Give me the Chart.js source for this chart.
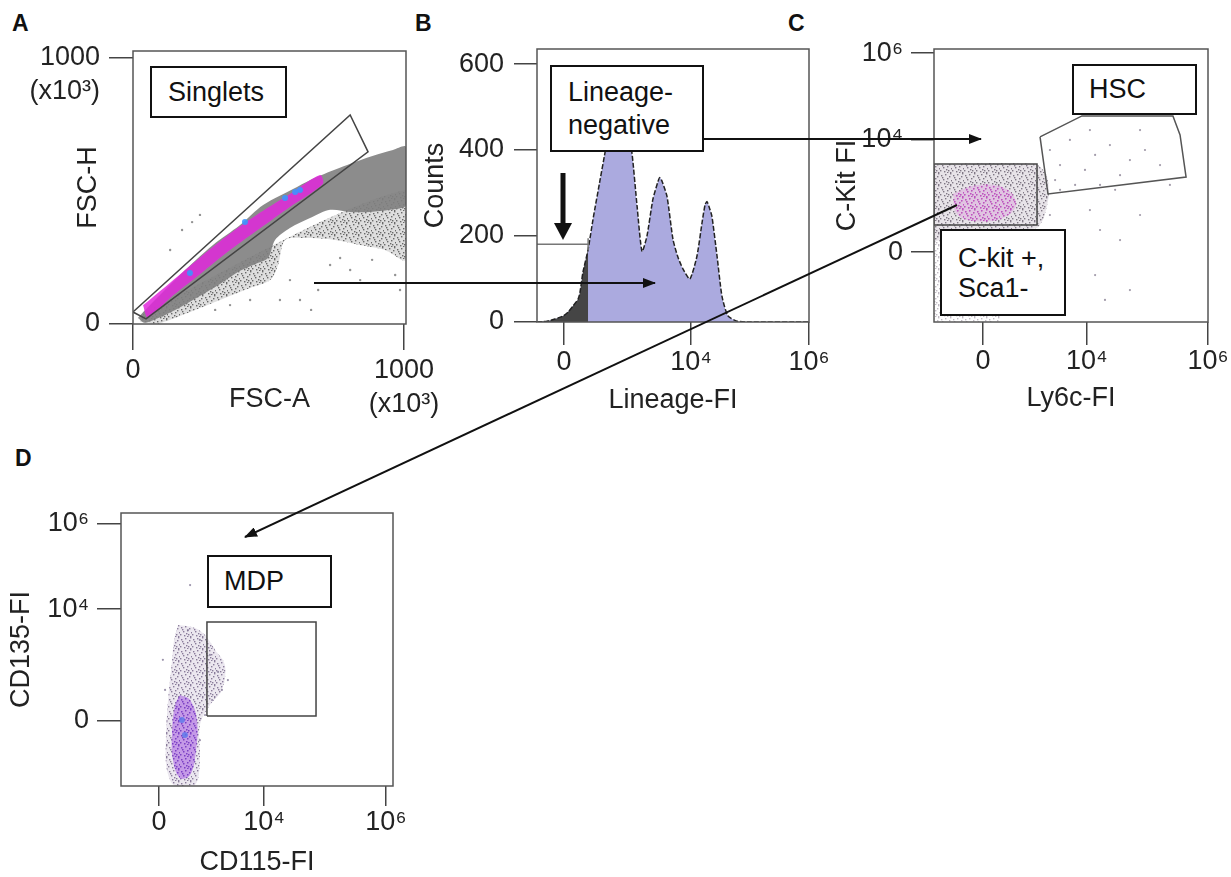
<!DOCTYPE html>
<html>
<head>
<meta charset="utf-8">
<title>Gating strategy – MDP</title>
<script src="https://cdn.jsdelivr.net/npm/chart.js@4.4.1/dist/chart.umd.min.js"></script>
<style>
  html, body { margin: 0; padding: 0; background: #fff; }
  body { width: 1231px; height: 877px; position: relative; overflow: hidden;
         font-family: "Liberation Sans", Arial, sans-serif; color: #111; }
  .panel { position: absolute; }
  .letter { position: absolute; font-weight: bold; font-size: 23px; line-height: 23px; }
  .gate-label { position: absolute; box-sizing: border-box; border: 2px solid #111; background: #fff;
                font-size: 27px; display: flex; flex-direction: column; justify-content: center;
                white-space: nowrap; }
  svg.overlay { position: absolute; left: 0; top: 0; }
</style>
</head>
<body>

<div class="letter" style="left:12px;top:12px">A</div>
<div class="letter" style="left:415px;top:12px">B</div>
<div class="letter" style="left:788px;top:12px">C</div>
<div class="letter" style="left:15px;top:447px">D</div>

<div class="panel" id="panelA"><canvas></canvas></div>
<div class="panel" id="panelB"><canvas></canvas></div>
<div class="panel" id="panelC"><canvas></canvas></div>
<div class="panel" id="panelD"><canvas></canvas></div>

<div class="gate-label" style="left:150px;top:66px;width:137px;height:52px;padding-left:16px">Singlets</div>
<div class="gate-label" style="left:550px;top:65px;width:154px;height:87px;padding-left:16px;line-height:33px"><span>Lineage-</span><span>negative</span></div>
<div class="gate-label" style="left:1072px;top:64px;width:125px;height:51px;padding-left:15px">HSC</div>
<div class="gate-label" style="left:940px;top:229px;width:126px;height:87px;padding-left:16px;line-height:30px"><span>C-kit +,</span><span>Sca1-</span></div>
<div class="gate-label" style="left:207px;top:555px;width:125px;height:53px;padding-left:15px">MDP</div>

<svg class="overlay" width="1231" height="877">
  <defs>
    <marker id="head" markerWidth="13" markerHeight="10" refX="12" refY="5" orient="auto" markerUnits="userSpaceOnUse">
      <path d="M0,0 L13,5 L0,10 z" fill="#111"/>
    </marker>
  </defs>
  <line x1="314" y1="283" x2="655" y2="283" stroke="#111" stroke-width="2" marker-end="url(#head)"/>
  <line x1="703" y1="139" x2="981" y2="139" stroke="#111" stroke-width="2" marker-end="url(#head)"/>
  <line x1="957" y1="205" x2="245" y2="537" stroke="#111" stroke-width="2" marker-end="url(#head)"/>
  <line x1="563" y1="173" x2="563" y2="226" stroke="#111" stroke-width="5"/>
  <path d="M554,223 L572,223 L563,240 z" fill="#111"/>
</svg>

<script>
(function () {
  "use strict";

  // ── Shared tick labels ──
  const bixLabels = ["0", "10\u2074", "10\u2076"];

  // ── Panel A: FSC-A vs FSC-H (x10^3) ──
  const fscTicks      = [0, 1000];
  const fscXLabels    = ["0", ["1000", "(x10³)"]];
  const fscYLabels    = ["0", ["", "1000", "(x10³)"]];
  const singletsGate  = [[0, 45], [48, 19], [867, 647], [801, 786]];
  const fscFringe     = [[26, 8], [44, 45], [1007, 504], [1007, 241], [930, 278], [838, 297], [745, 316],
                         [635, 323], [561, 316], [535, 222], [506, 165], [432, 135], [339, 98], [247, 60],
                         [155, 23], [81, 0]];
  const fscDense      = [[18, 23], [63, 71], [173, 184], [295, 297], [395, 372], [480, 447], [605, 515],
                         [679, 553], [790, 598], [886, 632], [959, 654], [1007, 665], [1007, 447], [948, 429],
                         [875, 421], [801, 421], [727, 429], [653, 398], [579, 361], [524, 316], [498, 248],
                         [450, 225], [395, 200], [321, 150], [247, 105], [173, 62], [100, 25], [44, 5]];
  const fscCore       = [[37, 70], [137, 155], [247, 250], [358, 340], [469, 419], [579, 489], [690, 560],
                         [700, 526], [579, 440], [469, 360], [358, 278], [247, 187], [137, 98], [55, 24]];
  const fscBlueSpots  = [[598, 496], [616, 504], [561, 474], [413, 383], [210, 192]];
  const fscSparse     = [[727, 222], [801, 203], [683, 128], [616, 90], [542, 90], [579, 165], [838, 165],
                         [967, 184], [882, 241], [764, 248], [432, 90], [358, 71], [303, 53], [985, 128],
                         [657, 53], [181, 353], [247, 410], [218, 383], [137, 278]];

  // ── Panel B: Lineage-FI histogram ──
  const linChannels   = [0, 22, 37, 66, 96, 114, 132, 151, 158, 169, 188, 206, 232, 250, 268, 298, 327, 349,
                         368, 386, 404, 426, 445, 452, 460, 478, 500, 518, 537, 562, 588, 607, 618, 625, 632,
                         643, 662, 680, 702, 735, 783, 1000];
  const linCounts     = [0, 1, 2, 7, 14, 23, 37, 53, 69, 116, 169, 239, 331, 394, 459, 493, 475, 394,
                         269, 164, 199, 285, 327, 336, 327, 292, 192, 151, 123, 100, 153, 232, 273, 280, 269,
                         246, 153, 60, 14, 2, 0, 0];
  const linXTicks     = [99, 566, 1000];
  const countTicks    = [0, 200, 400, 600];
  const countLabels   = ["0", "200", "400", "600"];
  const linGateLine   = [[0, 181], [188, 181]];
  const linGateEnd    = [[188, 167], [188, 195]];
  const linGateChannel = 188;

  // ── Panel C: Ly6c-FI vs C-Kit FI ──
  const ly6cTicks     = [179, 558, 1000];
  const ckitTicks     = [256, 667, 985];
  const ckitGate      = [[0, 355], [376, 355], [376, 579], [0, 579]];
  const hscGate       = [[387, 678], [540, 755], [872, 755], [898, 685], [920, 531], [416, 469]];
  const ckitCloud     = [[0, 576], [200, 582], [376, 576], [410, 540], [420, 470], [400, 380], [376, 345],
                         [300, 335], [150, 325], [60, 310], [0, 300]];
  const ckitCore      = [[70, 470], [150, 500], [260, 490], [300, 430], [250, 380], [140, 370], [80, 400]];
  const ckitStrip     = [[0, 300], [26, 300], [26, 22], [241, 22], [241, 0], [0, 0]];
  const ckitSparse    = [[423, 630], [460, 575], [496, 667], [551, 557], [588, 612], [606, 502], [642, 648],
                         [679, 538], [715, 593], [770, 630], [825, 575], [861, 502], [515, 502], [442, 520],
                         [569, 703], [752, 703], [460, 484], [661, 484], [569, 410], [606, 337], [679, 300],
                         [752, 392], [478, 264], [588, 172], [715, 117], [624, 81], [423, 392], [460, 337]];

  // ── Panel D: CD115-FI vs CD135-FI ──
  const cd115Ticks    = [140, 526, 974];
  const cd135Ticks    = [238, 648, 960];
  const mdpGate       = [[316, 256], [717, 256], [717, 601], [316, 601]];
  const mdpCloud      = [[210, 590], [272, 579], [309, 553], [346, 498], [382, 443], [371, 352], [327, 297],
                         [290, 223], [290, 95], [272, 4], [199, 0], [169, 59], [165, 168], [173, 315],
                         [188, 462], [195, 535]];
  const mdpCore       = [[217, 333], [254, 315], [279, 242], [276, 132], [254, 40], [217, 29], [191, 95],
                         [188, 205], [199, 297]];
  const mdpBlueSpots  = [[224, 242], [235, 187]];
  const mdpSparse     = [[254, 736], [246, 571], [290, 535], [327, 480], [357, 418], [371, 352], [335, 315],
                         [309, 260], [290, 168], [154, 462], [162, 352], [393, 388]];

  // ── Helpers ──
  Chart.defaults.font.family = '"Liberation Sans", Arial, sans-serif';
  Chart.defaults.color = "#222";
  const PAD_TOP = 20;
  const FS = 27;

  // fixed speckle tile, gives the dot-plot clouds a grainy look
  const SPECKLE = [[1, 2], [5, 1], [9, 3], [3, 6], [7, 5], [11, 7], [0, 9], [4, 10], [8, 9], [10, 11],
                   [6, 8], [2, 4], [10, 0], [7, 11]];
  function speckle(color) {
    const tile = document.createElement("canvas");
    tile.width = tile.height = 12;
    const t = tile.getContext("2d");
    t.fillStyle = color;
    SPECKLE.forEach(([x, y]) => t.fillRect(x, y, 1.4, 1.4));
    return t.createPattern(tile, "repeat");
  }

  const pts    = arr => arr.map(([x, y]) => ({ x, y }));
  const closed = arr => pts(arr.concat([arr[0]]));

  const area = (data, color, tension) => ({
    data: closed(data), fill: "shape", backgroundColor: color, borderColor: "transparent",
    borderWidth: 0, pointRadius: 0, tension: tension || 0
  });
  const outline = (data, color, isClosed) => ({
    data: isClosed === false ? pts(data) : closed(data), fill: false, borderColor: color || "#555",
    borderWidth: 1.5, pointRadius: 0, tension: 0
  });
  const dots = (data, color, r) => ({
    data: pts(data), showLine: false, pointRadius: r || 1.2, pointBackgroundColor: color,
    pointBorderWidth: 0, borderColor: "transparent"
  });

  function axis(o) {
    const horizontal = o.pos === "x";
    return {
      type: "linear", position: horizontal ? "bottom" : "left",
      min: o.min, max: o.max,
      afterBuildTicks: s => { s.ticks = o.ticks.map(v => ({ value: v })); },
      afterFit: s => {
        if (horizontal) s.height = o.size; else s.width = o.size;
        s.paddingLeft = s.paddingRight = s.paddingTop = s.paddingBottom = 0;
      },
      ticks: {
        autoSkip: false, maxRotation: 0, minRotation: 0, padding: o.pad, color: "#222",
        font: { size: FS, lineHeight: 1.25 },
        callback: (v, i) => o.labels[i]
      },
      grid: { drawOnChartArea: false, tickLength: o.tl, color: "#444", lineWidth: 1.5 },
      border: { display: false },
      title: {
        display: true, text: o.title, color: "#222", font: { size: FS, lineHeight: 1.2 },
        padding: horizontal ? { top: 0, bottom: o.tpad } : { top: o.tpad, bottom: 0 }
      }
    };
  }

  const frame = {
    id: "frame",
    afterDatasetsDraw(chart) {
      const { ctx, chartArea: a } = chart;
      ctx.save();
      ctx.strokeStyle = "#555";
      ctx.lineWidth = 1.5;
      ctx.strokeRect(a.left, a.top, a.right - a.left, a.bottom - a.top);
      ctx.restore();
    }
  };

  // box = plot frame in page pixels [left, top, right, bottom]
  function panel(id, geom, x, y, datasets) {
    const wrap = document.getElementById(id);
    const left = geom.box[0] - geom.yW, top = geom.box[1] - PAD_TOP;
    const width = geom.box[2] - left + geom.padR, height = geom.box[3] - top + geom.xH;
    wrap.style.left = left + "px";
    wrap.style.top = top + "px";
    const canvas = wrap.querySelector("canvas");
    canvas.width = width;
    canvas.height = height;
    x.size = geom.xH; y.size = geom.yW;
    return new Chart(canvas, {
      type: "line",
      data: { datasets },
      options: {
        responsive: false, animation: false, devicePixelRatio: 1, events: [],
        layout: { padding: { top: PAD_TOP, right: geom.padR, left: 0, bottom: 0 } },
        plugins: { legend: { display: false }, tooltip: { enabled: false } },
        scales: { x: axis(Object.assign({ pos: "x" }, x)), y: axis(Object.assign({ pos: "y" }, y)) }
      },
      plugins: [frame]
    });
  }

  // ── A ──
  panel("panelA", { box: [133, 51, 406, 324], yW: 133, xH: 100, padR: 64 },
    { min: 0, max: 1007, ticks: fscTicks, labels: fscXLabels, tl: 26, pad: 4, title: "FSC-A", tpad: 7.8 },
    { min: 0, max: 1026, ticks: fscTicks, labels: fscYLabels, tl: 24, pad: 9, title: "FSC-H", tpad: 72.8 },
    [
      outline(singletsGate, "#444"),
      dots(fscBlueSpots, "rgba(60,150,255,0.9)", 3),
      area(fscCore, "rgba(226,40,220,0.85)", 0.3),
      dots(fscSparse, "rgba(120,120,120,0.8)", 1.2),
      area(fscDense, "rgba(128,128,128,0.9)", 0.3),
      area(fscFringe, speckle("rgba(105,105,105,1)"), 0.3),
      area(fscFringe, "rgba(160,160,160,0.35)", 0.3)
    ]);

  // ── B ──
  const histogram = linChannels.map((c, i) => [c, linCounts[i]]);
  const gated = histogram.filter(([c]) => c <= linGateChannel);
  panel("panelB", { box: [537, 49, 809, 322], yW: 127, xH: 100, padR: 41 },
    { min: 0, max: 1000, ticks: linXTicks, labels: bixLabels, tl: 23, pad: 1, title: "Lineage-FI", tpad: 4.8 },
    { min: 0, max: 635, ticks: countTicks, labels: countLabels, tl: 23, pad: 10, title: "Counts", tpad: 9.8 },
    [
      outline(linGateLine, "#777", false),
      outline(linGateEnd, "#777", false),
      { data: pts(histogram), fill: false, borderColor: "#222", borderWidth: 1.5, borderDash: [5, 2],
        pointRadius: 0, tension: 0.2 },
      { data: pts(gated), fill: "origin", backgroundColor: "#454545", borderColor: "transparent",
        borderWidth: 0, pointRadius: 0, tension: 0.2 },
      { data: pts(histogram), fill: "origin", backgroundColor: "#abaadf", borderColor: "transparent",
        borderWidth: 0, pointRadius: 0, tension: 0.2 }
    ]);

  // ── C ──
  panel("panelC", { box: [934, 49, 1208, 322], yW: 114, xH: 100, padR: 23 },
    { min: 0, max: 1000, ticks: ly6cTicks, labels: bixLabels, tl: 23, pad: 0, title: "Ly6c-FI", tpad: 6.8 },
    { min: 0, max: 1000, ticks: ckitTicks, labels: bixLabels, tl: 23, pad: 8, title: "C-Kit FI", tpad: 11.8 },
    [
      outline(ckitGate, "#444"),
      outline(hscGate, "#555"),
      dots(ckitSparse, "rgba(130,120,140,0.75)", 1.1),
      area(ckitCore, speckle("rgba(200,70,200,0.9)"), 0.4),
      area(ckitCore, "rgba(215,140,215,0.35)", 0.4),
      area(ckitCloud, speckle("rgba(110,100,115,0.85)"), 0.2),
      area(ckitCloud, "rgba(185,175,190,0.35)", 0.2),
      area(ckitStrip, speckle("rgba(150,140,155,0.6)"), 0)
    ]);

  // ── D ──
  panel("panelD", { box: [121, 513, 393, 786], yW: 121, xH: 100, padR: 47 },
    { min: 0, max: 1000, ticks: cd115Ticks, labels: bixLabels, tl: 20, pad: 0, title: "CD115-FI", tpad: 6.8 },
    { min: 0, max: 1000, ticks: cd135Ticks, labels: bixLabels, tl: 24, pad: 8, title: "CD135-FI", tpad: 5.8 },
    [
      outline(mdpGate, "#444"),
      dots(mdpBlueSpots, "rgba(90,120,235,0.8)", 3),
      dots(mdpSparse, "rgba(130,120,150,0.8)", 1.1),
      area(mdpCore, speckle("rgba(120,60,200,0.9)"), 0.4),
      area(mdpCore, "rgba(170,100,225,0.6)", 0.4),
      area(mdpCloud, speckle("rgba(120,105,140,0.85)"), 0.35),
      area(mdpCloud, "rgba(175,160,190,0.25)", 0.35)
    ]);
})();
</script>
</body>
</html>
